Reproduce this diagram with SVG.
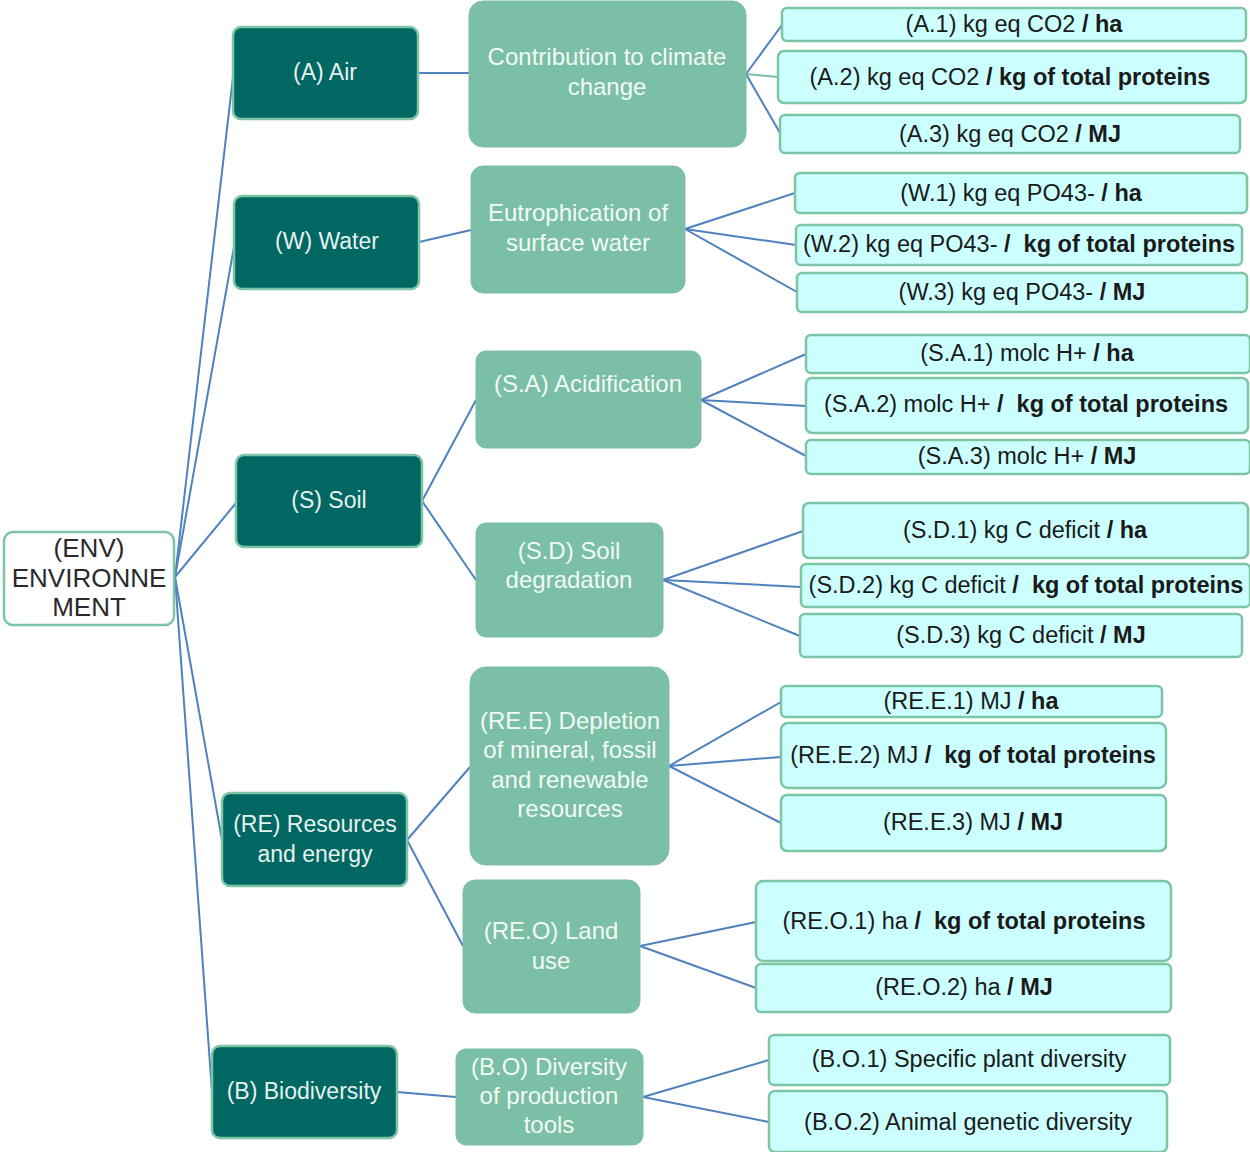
<svg xmlns="http://www.w3.org/2000/svg" width="1250" height="1152" viewBox="0 0 1250 1152">
<style>
text{font-family:"Liberation Sans",Arial,sans-serif;text-anchor:middle}
.root rect{fill:#ffffff;stroke:#7cc5a5;stroke-width:2.5}
.root text{font-size:26px;fill:#2a2a2a}
.t1 rect{fill:#006762;stroke:#7cc5a5;stroke-width:2.5}
.t1 text{font-size:23px;fill:#e6f2ee}
.t2 rect{fill:#7abfa6;stroke:#7abfa6;stroke-width:1}
.t2 text{font-size:24px;fill:#f2faf6}
.lf rect{fill:#ccffff;stroke:#7cc5a5;stroke-width:2.5}
.lf text{font-size:23.5px;fill:#1a1a1a}
.b{font-weight:bold}
#connectors line{stroke:#4f81bd;stroke-width:2;fill:none}
#connectors line.g{stroke:#7abfa6}
</style>
<g id="connectors">
<line x1="175" y1="577" x2="233" y2="77"/>
<line x1="175" y1="577" x2="234" y2="247"/>
<line x1="175" y1="577" x2="236" y2="503"/>
<line x1="175" y1="577" x2="222" y2="840"/>
<line x1="175" y1="577" x2="212" y2="1092"/>
<line x1="418" y1="73" x2="469" y2="73"/>
<line x1="419" y1="242" x2="471" y2="230"/>
<line x1="422" y1="501" x2="476" y2="400"/>
<line x1="422" y1="501" x2="476" y2="580"/>
<line x1="407" y1="840" x2="470" y2="767"/>
<line x1="407" y1="840" x2="463" y2="946"/>
<line x1="397" y1="1092" x2="456" y2="1097"/>
<line x1="746" y1="74" x2="782" y2="25"/>
<line class="g" x1="746" y1="74" x2="778" y2="77"/>
<line x1="746" y1="74" x2="780" y2="133"/>
<line x1="685" y1="229" x2="795" y2="193"/>
<line x1="685" y1="229" x2="796" y2="245"/>
<line x1="685" y1="229" x2="797" y2="292"/>
<line x1="701" y1="400" x2="806" y2="354"/>
<line x1="701" y1="400" x2="806" y2="406"/>
<line x1="701" y1="400" x2="806" y2="456"/>
<line x1="663" y1="580" x2="803" y2="531"/>
<line x1="663" y1="580" x2="801" y2="587"/>
<line x1="663" y1="580" x2="800" y2="636"/>
<line x1="669" y1="766" x2="781" y2="702"/>
<line x1="669" y1="766" x2="781" y2="757"/>
<line x1="669" y1="766" x2="781" y2="823"/>
<line x1="640" y1="946" x2="756" y2="922"/>
<line x1="640" y1="946" x2="756" y2="988"/>
<line x1="643" y1="1097" x2="769" y2="1060"/>
<line x1="643" y1="1097" x2="769" y2="1122"/>
</g>
<g id="env" class="root"><rect x="4" y="532" width="170" height="93" rx="9"/><text x="89" y="557">(ENV)</text><text x="89" y="587">ENVIRONNE</text><text x="89" y="616">MENT</text></g>
<g id="air" class="t1"><rect x="233" y="27" width="185" height="92" rx="8"/><text x="325" y="80">(A) Air</text></g>
<g id="water" class="t1"><rect x="234" y="196" width="185" height="93" rx="8"/><text x="327" y="249">(W) Water</text></g>
<g id="soil" class="t1"><rect x="236" y="455" width="186" height="92" rx="8"/><text x="329" y="508">(S) Soil</text></g>
<g id="re" class="t1"><rect x="222" y="793" width="185" height="93" rx="8"/><text x="315" y="832">(RE) Resources</text><text x="315" y="862">and energy</text></g>
<g id="bio" class="t1"><rect x="212" y="1046" width="185" height="92" rx="8"/><text x="304" y="1099">(B) Biodiversity</text></g>
<g id="climate" class="t2"><rect x="469" y="1" width="277" height="146" rx="14"/><text x="607" y="65">Contribution to climate</text><text x="607" y="95">change</text></g>
<g id="eutro" class="t2"><rect x="471" y="166" width="214" height="127" rx="12"/><text x="578" y="221">Eutrophication of</text><text x="578" y="251">surface water</text></g>
<g id="sa" class="t2"><rect x="476" y="351" width="225" height="97" rx="10"/><text x="588" y="392">(S.A) Acidification</text></g>
<g id="sd" class="t2"><rect x="476" y="523" width="187" height="114" rx="10"/><text x="569" y="559">(S.D) Soil</text><text x="569" y="588">degradation</text></g>
<g id="ree" class="t2"><rect x="470" y="667" width="199" height="198" rx="16"/><text x="570" y="729">(RE.E) Depletion</text><text x="570" y="758">of mineral, fossil</text><text x="570" y="788">and renewable</text><text x="570" y="817">resources</text></g>
<g id="reo" class="t2"><rect x="463" y="880" width="177" height="133" rx="12"/><text x="551" y="939">(RE.O) Land</text><text x="551" y="969">use</text></g>
<g id="bo" class="t2"><rect x="456" y="1049" width="187" height="96" rx="10"/><text x="549" y="1075">(B.O) Diversity</text><text x="549" y="1104">of production</text><text x="549" y="1133">tools</text></g>
<g id="a1" class="lf"><rect x="782" y="8" width="464" height="33" rx="5"/><text x="1014" y="32">(A.1) kg eq CO2 <tspan class="b">/ ha</tspan></text></g>
<g id="a2" class="lf"><rect x="778" y="51" width="468" height="52" rx="6"/><text x="1010" y="85">(A.2) kg eq CO2 <tspan class="b">/ kg of total proteins</tspan></text></g>
<g id="a3" class="lf"><rect x="780" y="115" width="460" height="38" rx="5"/><text x="1010" y="142">(A.3) kg eq CO2 <tspan class="b">/ MJ</tspan></text></g>
<g id="w1" class="lf"><rect x="795" y="173" width="452" height="40" rx="5"/><text x="1021" y="201">(W.1) kg eq PO43- <tspan class="b">/ ha</tspan></text></g>
<g id="w2" class="lf"><rect x="796" y="225" width="446" height="40" rx="5"/><text x="1019" y="252" xml:space="preserve">(W.2) kg eq PO43- <tspan class="b">/  kg of total proteins</tspan></text></g>
<g id="w3" class="lf"><rect x="797" y="273" width="450" height="39" rx="5"/><text x="1022" y="300">(W.3) kg eq PO43- <tspan class="b">/ MJ</tspan></text></g>
<g id="sa1" class="lf"><rect x="806" y="335" width="444" height="38" rx="5"/><text x="1027" y="361">(S.A.1) molc H+ <tspan class="b">/ ha</tspan></text></g>
<g id="sa2" class="lf"><rect x="806" y="378" width="442" height="55" rx="6"/><text x="1026" y="412" xml:space="preserve">(S.A.2) molc H+ <tspan class="b">/  kg of total proteins</tspan></text></g>
<g id="sa3" class="lf"><rect x="806" y="440" width="444" height="34" rx="5"/><text x="1027" y="464">(S.A.3) molc H+ <tspan class="b">/ MJ</tspan></text></g>
<g id="sd1" class="lf"><rect x="803" y="503" width="445" height="55" rx="6"/><text x="1025" y="538">(S.D.1) kg C deficit <tspan class="b">/ ha</tspan></text></g>
<g id="sd2" class="lf"><rect x="801" y="564" width="449" height="43" rx="5"/><text x="1026" y="593" xml:space="preserve">(S.D.2) kg C deficit <tspan class="b">/  kg of total proteins</tspan></text></g>
<g id="sd3" class="lf"><rect x="800" y="614" width="442" height="43" rx="5"/><text x="1021" y="643">(S.D.3) kg C deficit <tspan class="b">/ MJ</tspan></text></g>
<g id="ree1" class="lf"><rect x="781" y="686" width="381" height="31" rx="5"/><text x="971" y="709">(RE.E.1) MJ <tspan class="b">/ ha</tspan></text></g>
<g id="ree2" class="lf"><rect x="781" y="723" width="385" height="65" rx="7"/><text x="973" y="763" xml:space="preserve">(RE.E.2) MJ <tspan class="b">/  kg of total proteins</tspan></text></g>
<g id="ree3" class="lf"><rect x="781" y="795" width="385" height="56" rx="6"/><text x="973" y="830">(RE.E.3) MJ <tspan class="b">/ MJ</tspan></text></g>
<g id="reo1" class="lf"><rect x="756" y="881" width="415" height="80" rx="7"/><text x="964" y="929" xml:space="preserve">(RE.O.1) ha <tspan class="b">/  kg of total proteins</tspan></text></g>
<g id="reo2" class="lf"><rect x="756" y="964" width="415" height="48" rx="5"/><text x="964" y="995">(RE.O.2) ha <tspan class="b">/ MJ</tspan></text></g>
<g id="bo1" class="lf"><rect x="769" y="1035" width="401" height="50" rx="5"/><text x="969" y="1067">(B.O.1) Specific plant diversity</text></g>
<g id="bo2" class="lf"><rect x="769" y="1091" width="398" height="61" rx="6"/><text x="968" y="1130">(B.O.2) Animal genetic diversity</text></g>
</svg>
